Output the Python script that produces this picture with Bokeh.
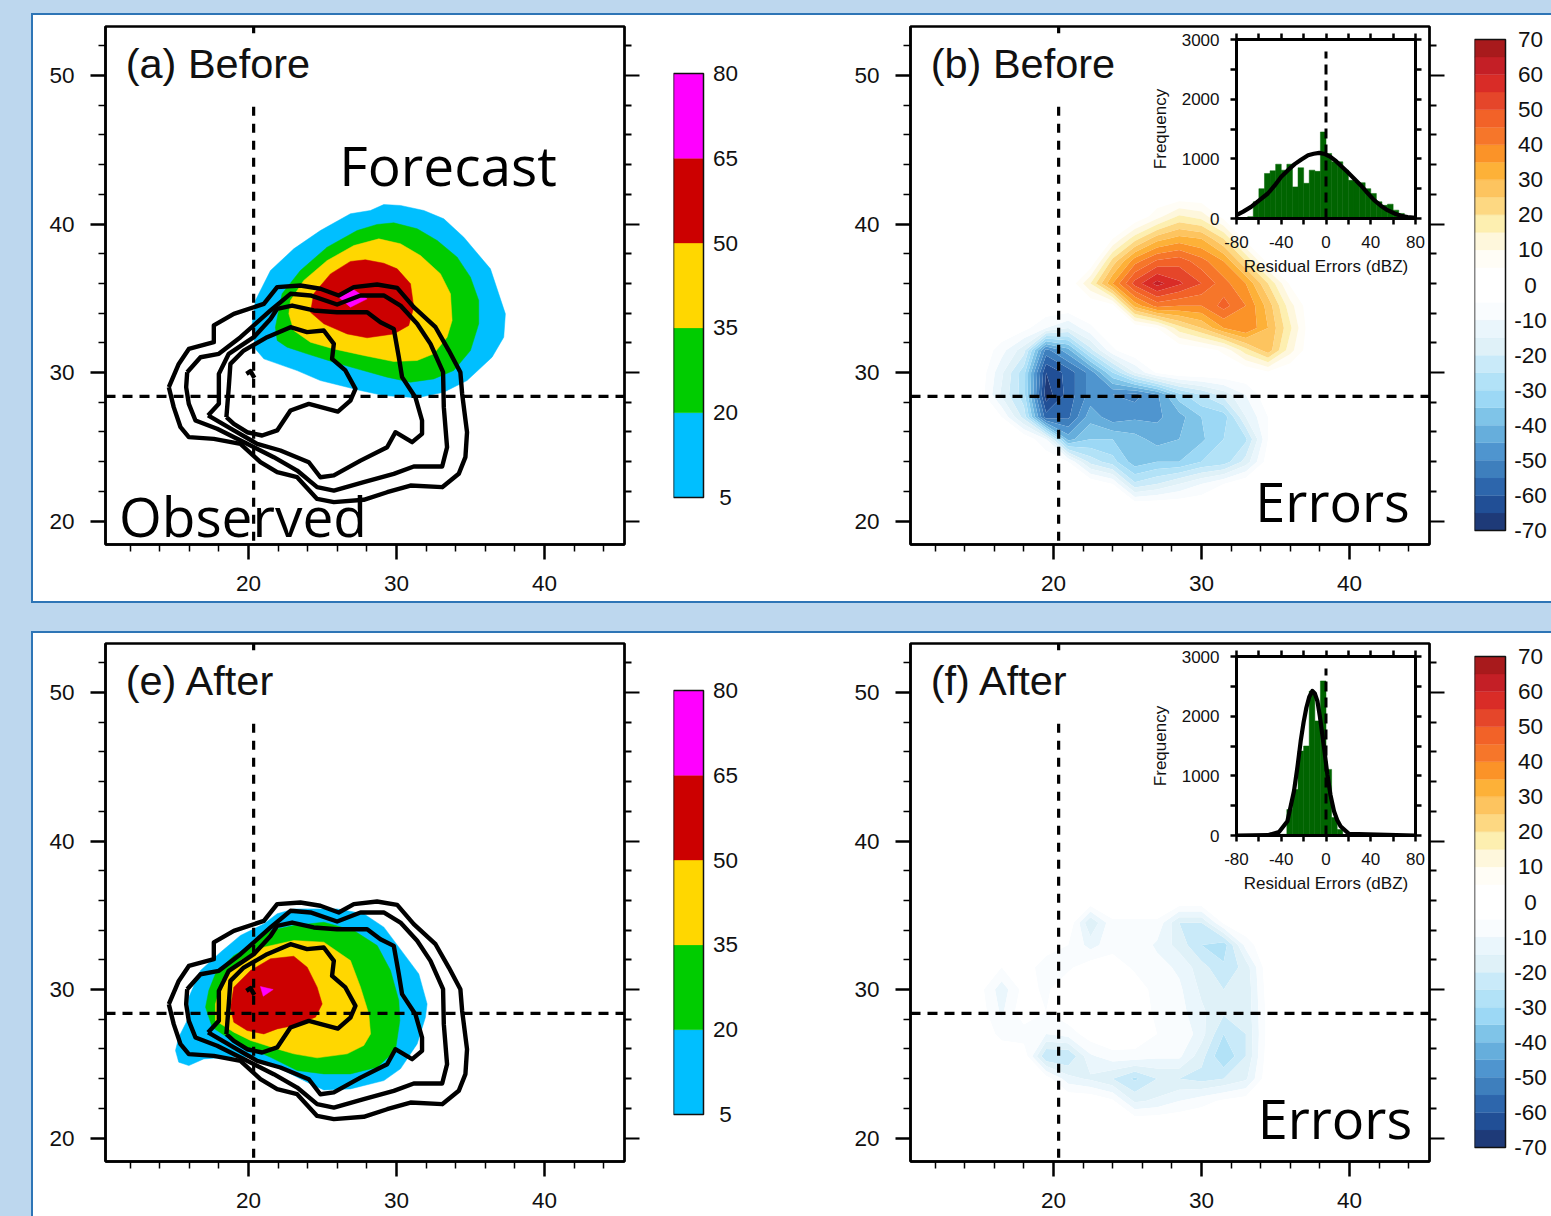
from bokeh.plotting import figure
from bokeh.embed import file_html
from bokeh.resources import INLINE
from bokeh.models import LinearAxis, FixedTicker, Div, Column
from bokeh.core.properties import value
import numpy as np

# ---------- geographic axes ----------
LON_RANGE = (10.34, 45.41)
LAT_RANGE = (18.42, 53.30)
TICKS_MAJOR = [20, 30, 40]
LON_MINOR = [12, 14, 16, 18, 22, 24, 26, 28, 32, 34, 36, 38, 42, 44]
LAT_TICKS = [20, 30, 40, 50]
LAT_MINOR = [22, 24, 26, 28, 32, 34, 36, 38, 42, 44, 46, 48, 52]
CROSS_LON = 20.35
CROSS_LAT = 28.4

# ---------- forecast, panel (a): filled bands (lon, lat) ----------
A_BLUE = [(29.14,41.31),(30.27,41.25),(31.85,40.91),(33.2,40.35),(34.55,39.11),(36.35,36.98),(36.91,35.3),(37.36,33.95),(37.25,32.38),(36.46,31.03),(34.77,29.46),(33.2,28.68),(31.4,28.3),(29.14,28.45),(27.57,28.79),(24.86,29.46),(23.29,30.13),(21.04,30.92),(20.47,31.59),(20.25,33.28),(20.47,34.85),(21.49,36.87),(23.06,38.33),(24.86,39.56),(26.89,40.69),(28.24,40.91)]
A_GREEN = [(29.82,40.08),(31.4,39.68),(32.75,38.89),(34.1,37.77),(35.0,36.42),(35.56,34.85),(35.56,33.28),(35.0,31.48),(33.87,30.14),(32.52,29.57),(30.95,29.35),(29.37,29.69),(27.34,30.25),(25.77,30.7),(23.96,31.26),(22.61,31.71),(21.94,32.16),(21.82,33.05),(22.27,35.3),(23.51,36.87),(25.32,38.44),(27.34,39.56),(28.69,39.97)]
A_YELLOW = [(28.81,39.0),(30.27,38.67),(31.62,37.88),(32.97,36.65),(33.65,35.3),(33.76,33.5),(33.42,32.38),(32.52,31.26),(31.4,30.81),(29.82,30.74),(27.79,31.15),(25.77,31.59),(24.19,32.04),(23.06,32.83),(22.73,33.95),(22.84,34.85),(23.74,36.2),(25.32,37.54),(27.12,38.55)]
A_RED = [(27.9,37.59),(29.14,37.36),(30.05,36.98),(30.95,35.97),(31.17,34.4),(30.83,33.17),(29.82,32.6),(28.02,32.34),(26.67,32.6),(25.09,33.28),(24.19,34.06),(24.41,35.3),(25.54,36.64),(26.89,37.48)]
A_MAGENTA = [(26.1,35.07),(27.12,35.57),(28.02,34.96),(26.89,34.4)]

# ---------- forecast, panel (e) ----------
E_BLUE = [(15.29,25.11),(15.97,24.88),(16.98,25.33),(18.56,25.44),(20.14,25.44),(22.39,24.55),(23.97,23.76),(25.09,23.24),(26.89,23.31),(29.15,23.87),(30.27,24.66),(31.4,26.34),(31.96,28.14),(32.07,29.03),(31.51,31.05),(30.5,32.4),(29.15,34.2),(27.79,35.1),(25.99,35.43),(23.06,35.43),(21.94,35.1),(21.04,34.42),(19.46,33.64),(18.11,32.51),(16.76,31.28),(15.97,29.48),(15.86,27.91),(15.29,26.79),(15.07,25.89)]
E_GREEN = [(17.1,28.81),(17.32,29.93),(17.77,31.06),(19.01,32.29),(20.36,33.07),(21.49,33.97),(23.06,34.31),(25.09,34.53),(27.12,33.97),(28.7,32.96),(29.6,31.28),(30.16,29.26),(30.23,27.91),(29.93,25.89),(28.7,24.77),(26.89,24.32),(25.09,24.32),(23.29,24.55),(21.49,25.44),(19.91,26.12),(18.56,26.79),(17.55,27.46)]
E_YELLOW = [(17.77,27.91),(17.77,29.03),(18.22,30.61),(19.46,31.95),(21.04,32.85),(23.06,33.3),(25.09,33.19),(26.89,31.95),(27.57,30.16),(28.13,28.36),(28.25,27.01),(27.79,26.23),(26.67,25.67),(24.64,25.4),(23.06,25.67),(21.94,26.0),(20.14,26.57),(19.01,27.13)]
E_RED = [(18.79,28.81),(19.01,30.16),(20.14,31.28),(21.49,32.07),(23.06,32.24),(23.97,31.5),(24.64,30.16),(24.98,29.03),(24.53,28.14),(23.06,27.58),(21.94,27.35),(21.04,27.01),(19.91,27.24),(19.01,27.8)]
E_MAGENTA = [(20.81,30.2),(21.67,30.0),(21.0,29.55)]

# ---------- observed contours (same in a and e) ----------
OBS_1 = [(14.62,29.01),(15.29,30.58),(15.97,31.59),(17.66,32.04),(17.66,33.17),(19.01,33.95),(21.04,34.62),(21.94,35.75),(23.51,35.86),(24.86,35.64),(26.1,35.19),(27.12,35.75),(28.69,35.93),(30.05,35.7),(31.17,34.4),(32.64,33.05),(33.54,31.48),(34.32,30.02),(34.44,28.56),(34.77,25.98),(34.66,24.3),(34.21,23.18),(33.09,22.28),(30.95,22.39),(29.37,21.94),(27.79,21.43),(25.77,21.27),(24.64,21.49),(23.29,22.95),(21.94,23.29),(20.81,23.96),(19.46,25.2),(17.66,25.53),(15.97,25.65),(15.41,26.32),(14.95,27.67)]
OBS_2 = [(15.86,30.02),(16.76,31.03),(18.0,31.26),(19.46,32.38),(21.49,34.18),(22.84,35.3),(24.19,35.19),(25.99,34.58),(27.57,35.19),(29.14,35.19),(30.27,34.51),(31.4,33.28),(32.3,31.93),(33.15,30.02),(33.2,27.67),(33.42,24.97),(33.09,23.67),(31.17,23.67),(29.82,23.18),(27.79,22.62),(25.77,22.05),(24.64,22.28),(23.29,23.4),(21.71,24.3),(19.91,25.2),(17.88,26.21),(16.42,26.77),(15.97,27.89),(15.79,29.01)]
OBS_3 = [(17.27,27.11),(18.0,27.89),(18.0,29.91),(18.67,31.26),(20.36,32.38),(21.49,33.61),(21.94,34.29),(22.95,34.51),(24.41,34.18),(25.99,34.06),(28.02,34.06),(28.92,33.39),(29.82,32.94),(30.16,31.03),(30.38,29.69),(31.28,28.34),(31.73,26.77),(31.73,25.87),(31.06,25.31),(29.93,25.98),(29.37,24.97),(27.57,24.07),(25.77,23.07),(24.86,22.95),(24.08,23.96),(22.16,24.75),(20.59,25.2),(19.01,26.1)]
OBS_4 = [(18.51,27.0),(18.67,29.01),(18.78,30.58),(19.68,31.48),(21.26,32.38),(22.84,33.05),(23.96,32.72),(25.09,32.83),(25.77,31.93),(25.65,30.92),(26.55,30.14),(27.23,28.9),(26.89,28.11),(26.04,27.37),(24.08,27.89),(22.84,27.44),(21.94,26.1),(20.92,25.76),(19.91,25.98),(19.01,26.54)]
OBS_5 = [(19.86,29.91),(20.14,30.09),(20.4,29.64)]

# ---------- error fields on a 1.5-degree grid ----------
GRID_LON = [15, 16.5, 18, 19.5, 21, 22.5, 24, 25.5, 27, 28.5, 30, 31.5, 33, 34.5, 36, 37.5]
GRID_LAT = [42, 40.5, 39, 37.5, 36, 34.5, 33, 31.5, 30, 28.5, 27, 25.5, 24, 22.5, 21]
ERR_B = [
    [ 0,   0,   0,   0,   0,   0,   0,   0,   0,   0,   0,   0,   0,   0,  0, 0],
    [ 0,   0,   0,   0,   0,   0,   0,   0,   8,  16,  13,   3,   0,   0,  0, 0],
    [ 0,   0,   0,   0,   0,   0,   5,  18,  28,  32,  30,  20,   3,   0,  0, 0],
    [ 0,   0,   0,   0,   0,   0,  22,  38,  46,  48,  42,  35,  20,   3,  0, 0],
    [ 0,   0,   0,   0,   0,  15,  35,  52,  62,  56,  50,  42,  35,  20,  4, 0],
    [ 0,   0,   0,   0,   0,   0,   3,  32,  42,  40,  40,  47,  40,  28, 12, 0],
    [ 0,   0,  -3, -10, -15,  -6,   0,   0,   5,  18,  25,  35,  40,  30, 16, 0],
    [ 0,  -8, -18, -52, -42, -22,  -6,   0,   0,   0,   2,   6,  18,  28, 12, 0],
    [-1, -14, -28, -65, -58, -48, -30, -15,  -4,   0,   0,   0,   0,   4,  0, 0],
    [-2, -16, -28, -68, -58, -48, -50, -52, -46, -32, -25, -18, -10,  -1,  0, 0],
    [ 0,  -5, -22, -58, -56, -42, -48, -46, -46, -42, -35, -33, -15,  -5,  0, 0],
    [ 0,   0,   0, -10, -42, -35, -35, -38, -42, -40, -36, -30, -26,  -5,  0, 0],
    [ 0,   0,   0,   0,  -5, -22, -28, -38, -35, -35, -30, -28, -18,  -2,  0, 0],
    [ 0,   0,   0,   0,   0,   0,  -5, -24, -20, -15, -10,  -5,   0,   0,  0, 0],
    [ 0,   0,   0,   0,   0,   0,   0,   0,   0,   0,   0,   0,   0,   0,  0, 0],
]
ERR_F = [
    [ 0,   0,   0,   0,   0,   0,   0,   0,   0,   0,   0,   0,   0,   0,  0, 0],
    [ 0,   0,   0,   0,   0,   0,   0,   0,   0,   0,   0,   0,   0,   0,  0, 0],
    [ 0,   0,   0,   0,   0,   0,   0,   0,   0,   0,   0,   0,   0,   0,  0, 0],
    [ 0,   0,   0,   0,   0,   0,   0,   0,   0,   0,   0,   0,   0,   0,  0, 0],
    [ 0,   0,   0,   0,   0,   0,   0,   0,   0,   0,   0,   0,   0,   0,  0, 0],
    [ 0,   0,   0,   0,   0, -20,  -6,  -6,  -6, -20, -20,  -4,   0,   0,  0, 0],
    [ 0,   0,   0,  -2,  -5, -12,  -7,  -6, -11, -17, -25, -28,  -8,   0,  0, 0],
    [ 0,  -5,  -2,  -8,  -6,  -2,  -2,  -6,  -8, -11, -18, -24, -18,  -1,  0, 0],
    [-3, -13,  -3,  -6,  -1,   1,   0,  -2,  -7,  -9, -16, -20, -19,  -2,  0, 0],
    [-2, -11,  -1,  -5,  -1,   0,   0,  -2,  -6,  -8, -14, -19, -19,  -3,  0, 0],
    [ 0,  -7,  -8, -10,  -8,  -2,   0,  -1,  -5,  -5, -13, -25, -20,  -3,  0, 0],
    [ 0,   0,  -1, -25, -25, -11,  -7,  -7,  -9,  -9, -18, -30, -20,  -2,  0, 0],
    [ 0,   0,   0,  -2, -13, -16, -20, -26, -20, -20, -22, -20, -16,  -1,  0, 0],
    [ 0,   0,   0,   0,   0,   0,  -4, -16, -14, -10,  -7,  -4,  -2,   0,  0, 0],
    [ 0,   0,   0,   0,   0,   0,   0,   0,   0,   0,   0,   0,   0,   0,  0, 0],
]

# ---------- colour scales ----------
OBS_LEVELS = [5, 20, 35, 50, 65, 80]
OBS_COLORS = ["#00bfff", "#00cc00", "#ffd700", "#cc0000", "#ff00ff"]
ERR_LEVELS = list(range(-70, 75, 5))
ERR_COLORS = ["#1e3a78", "#214f96", "#2d66ac", "#3e7fbd", "#4f95cf", "#66aedc", "#7fc4e8",
              "#9cd8f5", "#b2e2f7", "#c9eaf9", "#dff1f8", "#eaf6fc", "#f9fcfe", "#ffffff",
              "#ffffff", "#fffdf6", "#fef7dc", "#fdefb0", "#fdd882", "#fdc45f", "#fdb138",
              "#fb9328", "#f6762a", "#f26228", "#e5462a", "#d92c27", "#c41f26", "#a81a1c"]
ERR_TICKS = list(range(-70, 80, 10))

# ---------- residual histograms ----------
HIST_EDGES = list(range(-70, 75, 5))
HIST_B = [30, 280, 500, 755, 800, 910, 810, 910, 530, 850, 590, 810, 790, 1450,
          1090, 950, 950, 810, 640, 610, 600, 500, 420, 280, 220, 240, 140, 85]
HIST_F = [0, 0, 0, 0, 0, 0, 20, 436, 770, 1415, 1500, 2420, 1920, 2590,
          1108, 300, 100, 0, 0, 0, 0, 0, 0, 0, 0, 0, 0, 0]
FIT_B_X = [-80, -74, -67, -60, -52, -46, -40, -34, -28, -22, -16, -11, -6, -1, 4, 9, 14, 19, 25, 31, 37, 43, 49, 55, 61, 67, 73, 80]
FIT_B_Y = [56, 115, 195, 300, 419, 550, 698, 810, 911, 990, 1061, 1085, 1100, 1080, 1034, 960, 870, 782, 670, 559, 430, 307, 215, 140, 85, 45, 25, 11]
FIT_F_X = [-80, -52, -42, -34.5, -28.6, -25.5, -22.6, -20, -17.5, -15, -12.2, -10, -7.7, -5.5, -3.3, -1, 1.2, 4, 7.1, 10, 13, 20.5, 80]
FIT_F_Y = [0, 5, 60, 240, 745, 1150, 1585, 1900, 2145, 2320, 2423, 2380, 2255, 2000, 1695, 1360, 1025, 680, 410, 260, 155, 28, 0]

SANS = "Liberation Sans"
CALLOUT = "Open Sans"

# Bokeh aligns the frames of plots that share a Column, so all share these borders.
BORDER_LEFT = 100
BORDER_RIGHT = 25


def place(fig, left, top):
    fig.styles = {"position": "absolute", "left": f"{left}px", "top": f"{top}px"}
    return fig


def box(left, top, width, height, bg, border=None):
    st = {"position": "absolute", "left": f"{left}px", "top": f"{top}px", "background-color": bg,
          "box-sizing": "border-box"}
    if border:
        st["border"] = f"2.5px solid {border}"
    return Div(text="", width=width, height=height, styles=st, margin=0)


def blank_axis(ticker, tick_out, minor_out, width):
    labels = {t: "" for t in ticker.ticks}
    return LinearAxis(ticker=ticker, major_label_overrides=labels, major_label_standoff=0,
                      major_tick_out=tick_out, major_tick_in=0, minor_tick_out=minor_out, minor_tick_in=0,
                      major_tick_line_width=width, minor_tick_line_width=width, axis_line_width=width)


def map_panel(frame_left, frame_top, label):
    bt, bb = 10, 60
    p = figure(frame_width=519, frame_height=518, x_range=LON_RANGE, y_range=LAT_RANGE,
               output_backend="svg", toolbar_location=None, min_border_left=BORDER_LEFT, min_border_right=BORDER_RIGHT,
               min_border_top=bt, min_border_bottom=bb, background_fill_color=None, border_fill_color=None,
               outline_line_color="black", outline_line_width=2.5, x_axis_type=None, y_axis_type=None)
    p.grid.visible = False
    xt = FixedTicker(ticks=TICKS_MAJOR, minor_ticks=LON_MINOR)
    yt = FixedTicker(ticks=LAT_TICKS, minor_ticks=LAT_MINOR)
    xa = LinearAxis(ticker=xt, major_label_text_font=SANS, major_label_text_font_size="22.5px", major_label_standoff=16,
                    major_tick_out=15, major_tick_in=0, minor_tick_out=7, minor_tick_in=0,
                    major_tick_line_width=2.5, minor_tick_line_width=1.5, axis_line_width=2.5,
                    major_label_text_color="#111111")
    ya = LinearAxis(ticker=yt, major_label_text_font=SANS, major_label_text_font_size="22.5px", major_label_standoff=16,
                    major_tick_out=15, major_tick_in=0, minor_tick_out=7, minor_tick_in=0,
                    major_tick_line_width=2.5, minor_tick_line_width=1.5, axis_line_width=2.5,
                    major_label_text_color="#111111")
    p.add_layout(xa, "below")
    p.add_layout(ya, "left")
    p.add_layout(blank_axis(yt, 15, 7, 2), "right")
    p.text([11.7], [50.81], text=[label], text_font=value(SANS), text_font_size="41.5px", text_color="#111111",
           text_baseline="alphabetic")
    place(p, frame_left - BORDER_LEFT, frame_top - bt)
    return p


def dashed_cross(p):
    p.line([CROSS_LON, CROSS_LON], [LAT_RANGE[1], 52.85], line_color="black", line_width=3.2)
    p.line([CROSS_LON, CROSS_LON], [47.9, LAT_RANGE[0]], line_color="black", line_width=3.2, line_dash="9 8")
    p.line(list(LON_RANGE), [CROSS_LAT, CROSS_LAT], line_color="black", line_width=3.2, line_dash="10 7")


def forecast_panel(frame_left, frame_top, label, bands):
    p = map_panel(frame_left, frame_top, label)
    for poly, col in zip(bands, OBS_COLORS):
        p.patch([q[0] for q in poly], [q[1] for q in poly], fill_color=col, line_color=col, line_width=0.5)
    dashed_cross(p)
    for obs in (OBS_1, OBS_2, OBS_3, OBS_4, OBS_5):
        closed = obs + ([obs[0]] if obs is not OBS_5 else [])
        p.line([q[0] for q in closed], [q[1] for q in closed], line_color="black", line_width=4.4, line_join="round")
    return p


def error_panel(frame_left, frame_top, label, field, errors_lon, errors_lat):
    p = map_panel(frame_left, frame_top, label)
    z = np.array(field, dtype=float)[::-1]
    lat = np.array(GRID_LAT[::-1], dtype=float)
    p.contour(np.array(GRID_LON, dtype=float), lat, z, ERR_LEVELS, fill_color=ERR_COLORS, line_color=None)
    dashed_cross(p)
    p.text([errors_lon], [errors_lat], text=["Errors"], text_font=value(CALLOUT), text_font_size="54px",
           text_color="black", text_baseline="alphabetic")
    return p


def inset(frame_left, frame_top, counts, fit_x, fit_y):
    bt, bb = 10, 62
    p = figure(frame_width=179, frame_height=179, x_range=(-80, 80), y_range=(0, 3000),
               output_backend="svg", toolbar_location=None, min_border_left=BORDER_LEFT, min_border_right=BORDER_RIGHT,
               min_border_top=bt, min_border_bottom=bb, background_fill_color=None, border_fill_color=None,
               outline_line_color="black", outline_line_width=3, x_axis_type=None, y_axis_type=None)
    p.grid.visible = False
    xt = FixedTicker(ticks=[-80, -40, 0, 40, 80], minor_ticks=[-60, -20, 20, 60])
    yt = FixedTicker(ticks=[0, 1000, 2000, 3000], minor_ticks=[500, 1500, 2500])
    xa = LinearAxis(ticker=xt, axis_label="Residual Errors (dBZ)", axis_label_text_font=SANS, axis_label_text_font_style="normal",
                    axis_label_text_font_size="17px", axis_label_standoff=6, major_label_text_font=SANS,
                    major_label_text_font_size="17px", major_label_standoff=11, major_tick_out=6, major_tick_in=0,
                    minor_tick_out=6, minor_tick_in=0, major_tick_line_width=2.5, minor_tick_line_width=2.5,
                    axis_line_width=3, major_label_text_color="#111111", axis_label_text_color="#111111",
                    major_label_overrides={-80: "-80", -40: "-40"})
    ya = LinearAxis(ticker=yt, axis_label="Frequency", axis_label_text_font=SANS, axis_label_text_font_style="normal",
                    axis_label_text_font_size="17px", axis_label_standoff=9, major_label_text_font=SANS,
                    major_label_text_font_size="17px", major_label_standoff=11, major_tick_out=6, major_tick_in=0,
                    minor_tick_out=6, minor_tick_in=0, major_tick_line_width=2.5, minor_tick_line_width=2.5,
                    axis_line_width=3, major_label_text_color="#111111", axis_label_text_color="#111111")
    p.add_layout(xa, "below")
    p.add_layout(ya, "left")
    p.add_layout(blank_axis(xt, 6, 6, 2.5), "above")
    p.add_layout(blank_axis(yt, 6, 6, 2.5), "right")
    p.quad(left=HIST_EDGES[:-1], right=HIST_EDGES[1:], bottom=0, top=counts, fill_color="#006400", line_color="#006400", line_width=0.5)
    p.line(fit_x, fit_y, line_color="black", line_width=4.2, line_join="round")
    p.line([0, 0], [0, 2800], line_color="black", line_width=3, line_dash="10 6")
    place(p, frame_left - BORDER_LEFT, frame_top - bt)
    return p


def colorbar(bar_left, bar_top, bar_w, bar_h, total_w, levels, colors, ticks, label_center):
    pad = 16
    per_unit = bar_h / (levels[-1] - levels[0])
    p = figure(frame_width=total_w, frame_height=bar_h + 2 * pad,
               x_range=(0, total_w / bar_w), y_range=(levels[0] - pad / per_unit, levels[-1] + pad / per_unit),
               output_backend="svg", toolbar_location=None, min_border_left=BORDER_LEFT, min_border_right=BORDER_RIGHT,
               min_border_top=0, min_border_bottom=0, background_fill_color=None, border_fill_color=None,
               outline_line_color=None, x_axis_type=None, y_axis_type=None)
    p.grid.visible = False
    p.quad(left=0, right=1, bottom=levels[:-1], top=levels[1:], fill_color=colors, line_color=colors, line_width=0.3)
    p.quad(left=[0], right=[1], bottom=[levels[0]], top=[levels[-1]], fill_color=None, line_color="#111111", line_width=1.5)
    label_x = (label_center - bar_left) / bar_w
    p.text([label_x] * len(ticks), ticks, text=[str(t) for t in ticks], text_font=value(SANS), text_font_size="22.5px",
           text_color="#111111", text_align="center", text_baseline="middle")
    place(p, bar_left - BORDER_LEFT, bar_top - pad)
    return p


# panels -------------------------------------------------------------
OFFSET = 617
children = [
    box(0, 0, 1551, 1216, "#bdd7ee"),
    box(31, 13, 1530, 590, "#ffffff", "#2e75b6"),
    box(31, 631, 1530, 600, "#ffffff", "#2e75b6"),
]

pa = forecast_panel(105, 26, "(a) Before", [A_BLUE, A_GREEN, A_YELLOW, A_RED, A_MAGENTA])
pa.text([26.14], [44.0], text=["Forecast"], text_font=value(CALLOUT), text_font_size="55px", text_color="black",
        text_baseline="alphabetic")
pa.text([11.25], [20.35], text=["Observed"], text_font=value(CALLOUT), text_font_size="55px", text_color="black",
        text_baseline="alphabetic")
pe = forecast_panel(105, 26 + OFFSET, "(e) After", [E_BLUE, E_GREEN, E_YELLOW, E_RED, E_MAGENTA])
pb = error_panel(910, 26, "(b) Before", ERR_B, 33.64, 21.35)
pf = error_panel(910, 26 + OFFSET, "(f) After", ERR_F, 33.8, 21.35)

children += [pa, pb, pe, pf,
             colorbar(673, 73, 30, 424, 85, OBS_LEVELS, OBS_COLORS, OBS_LEVELS, 725),
             colorbar(673, 73 + OFFSET, 30, 424, 85, OBS_LEVELS, OBS_COLORS, OBS_LEVELS, 725),
             colorbar(1474, 39, 31, 491, 77, ERR_LEVELS, ERR_COLORS, ERR_TICKS, 1530),
             colorbar(1474, 39 + OFFSET, 31, 491, 77, ERR_LEVELS, ERR_COLORS, ERR_TICKS, 1530),
             inset(1236, 39, HIST_B, FIT_B_X, FIT_B_Y),
             inset(1236, 39 + OFFSET, HIST_F, FIT_F_X, FIT_F_Y)]

root = Column(children=children, width=1551, height=1216,
              styles={"position": "absolute", "left": "0px", "top": "0px", "overflow": "hidden"})
open("out.html", "w").write(file_html(root, INLINE))
